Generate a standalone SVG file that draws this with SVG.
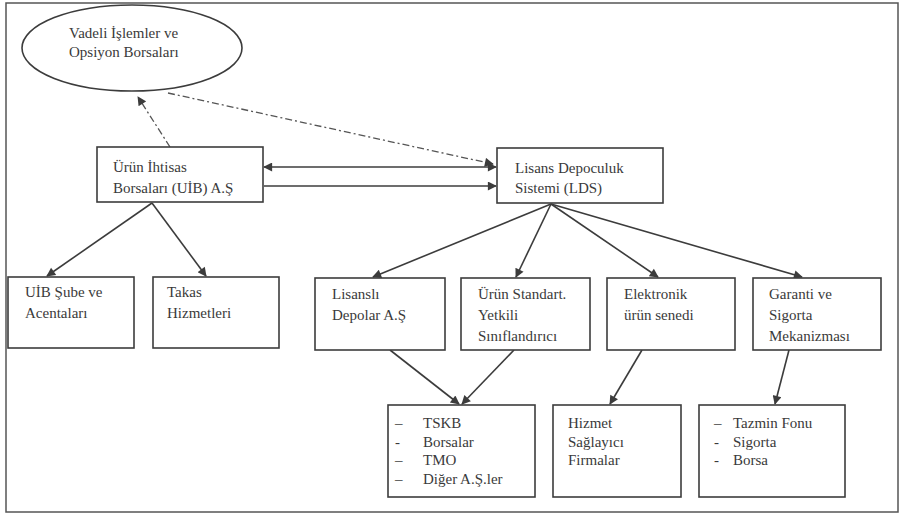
<svg xmlns="http://www.w3.org/2000/svg" width="902" height="516" viewBox="0 0 902 516">
<defs>
<style>
.box{fill:#fff;stroke:#3c3c3c;stroke-width:1.6}
.t{font-family:'Liberation Serif','DejaVu Serif',serif;font-size:15px;fill:#3a3a3a}
.ln{stroke:#3c3c3c;stroke-width:1.6;fill:none}
.dd{stroke:#555;stroke-width:1.3;fill:none;stroke-dasharray:7 3 2 3}
</style>
<marker id="ahb" viewBox="0 0 10 10" refX="9" refY="5" markerWidth="11" markerHeight="9" markerUnits="userSpaceOnUse" orient="auto-start-reverse">
<path d="M0,0 L10,5 L0,10 z" fill="#3c3c3c"/>
</marker>
</defs>
<rect x="0" y="0" width="902" height="516" fill="#fff"/>
<rect x="6" y="3" width="892" height="509" fill="none" stroke="#555" stroke-width="1.5"/>

<g id="connectors">
<line class="dd" x1="168" y1="93" x2="493" y2="164" marker-end="url(#ahb)"/>
<line class="dd" x1="170" y1="147" x2="138" y2="97" marker-end="url(#ahb)"/>
<line class="ln" x1="264" y1="167" x2="496" y2="167" marker-start="url(#ahb)" marker-end="url(#ahb)"/>
<line class="ln" x1="264" y1="186" x2="496" y2="186" marker-end="url(#ahb)"/>
<line class="ln" x1="152" y1="203" x2="47" y2="276" marker-end="url(#ahb)"/>
<line class="ln" x1="152" y1="203" x2="206" y2="276" marker-end="url(#ahb)"/>
<line class="ln" x1="551" y1="204" x2="373" y2="277" marker-end="url(#ahb)"/>
<line class="ln" x1="551" y1="204" x2="516" y2="277" marker-end="url(#ahb)"/>
<line class="ln" x1="551" y1="204" x2="658" y2="277" marker-end="url(#ahb)"/>
<line class="ln" x1="551" y1="204" x2="802" y2="277" marker-end="url(#ahb)"/>
<line class="ln" x1="390" y1="350" x2="459" y2="404" marker-end="url(#ahb)"/>
<line class="ln" x1="514" y1="350" x2="462" y2="404" marker-end="url(#ahb)"/>
<line class="ln" x1="642" y1="350" x2="610" y2="404" marker-end="url(#ahb)"/>
<line class="ln" x1="789" y1="350" x2="775" y2="404" marker-end="url(#ahb)"/>
</g>

<g id="vob">
<ellipse cx="132" cy="48" rx="110" ry="43" class="box"/>
<text class="t" x="69" y="38">Vadeli İşlemler ve</text>
<text class="t" x="69" y="57">Opsiyon Borsaları</text>
</g>

<g id="uib">
<rect class="box" x="97" y="147" width="166" height="55"/>
<text class="t" x="113" y="172">Ürün İhtisas</text>
<text class="t" x="113" y="193">Borsaları (UİB) A.Ş</text>
</g>

<g id="lds">
<rect class="box" x="497" y="148" width="166" height="55"/>
<text class="t" x="515" y="173">Lisans Depoculuk</text>
<text class="t" x="515" y="193">Sistemi (LDS)</text>
</g>

<g id="uib-sube">
<rect class="box" x="8" y="277" width="126" height="71"/>
<text class="t" x="25" y="297">UİB Şube ve</text>
<text class="t" x="25" y="318">Acentaları</text>
</g>

<g id="takas">
<rect class="box" x="153" y="277" width="126" height="71"/>
<text class="t" x="167" y="297">Takas</text>
<text class="t" x="167" y="318">Hizmetleri</text>
</g>

<g id="lisansli">
<rect class="box" x="315" y="278" width="130" height="72"/>
<text class="t" x="332" y="299">Lisanslı</text>
<text class="t" x="332" y="320">Depolar A.Ş</text>
</g>

<g id="urun-standart">
<rect class="box" x="461" y="278" width="129" height="72"/>
<text class="t" x="478" y="299">Ürün Standart.</text>
<text class="t" x="478" y="320">Yetkili</text>
<text class="t" x="478" y="341">Sınıflandırıcı</text>
</g>

<g id="elektronik">
<rect class="box" x="607" y="278" width="128" height="72"/>
<text class="t" x="624" y="299">Elektronik</text>
<text class="t" x="624" y="320">ürün senedi</text>
</g>

<g id="garanti">
<rect class="box" x="753" y="278" width="128" height="72"/>
<text class="t" x="769" y="299">Garanti ve</text>
<text class="t" x="769" y="320">Sigorta</text>
<text class="t" x="769" y="341">Mekanizması</text>
</g>

<g id="tskb">
<rect class="box" x="388" y="405" width="147" height="92"/>
<text class="t" x="395" y="428">–</text><text class="t" x="423" y="428">TSKB</text>
<text class="t" x="395" y="447">-</text><text class="t" x="423" y="447">Borsalar</text>
<text class="t" x="395" y="465">–</text><text class="t" x="423" y="465">TMO</text>
<text class="t" x="395" y="484">–</text><text class="t" x="423" y="484">Diğer A.Ş.ler</text>
</g>

<g id="hizmet">
<rect class="box" x="553" y="405" width="128" height="92"/>
<text class="t" x="568" y="428">Hizmet</text>
<text class="t" x="568" y="447">Sağlayıcı</text>
<text class="t" x="568" y="465">Firmalar</text>
</g>

<g id="tazmin">
<rect class="box" x="699" y="405" width="146" height="92"/>
<text class="t" x="714" y="428">–</text><text class="t" x="733" y="428">Tazmin Fonu</text>
<text class="t" x="714" y="447">-</text><text class="t" x="733" y="447">Sigorta</text>
<text class="t" x="714" y="465">-</text><text class="t" x="733" y="465">Borsa</text>
</g>
</svg>
